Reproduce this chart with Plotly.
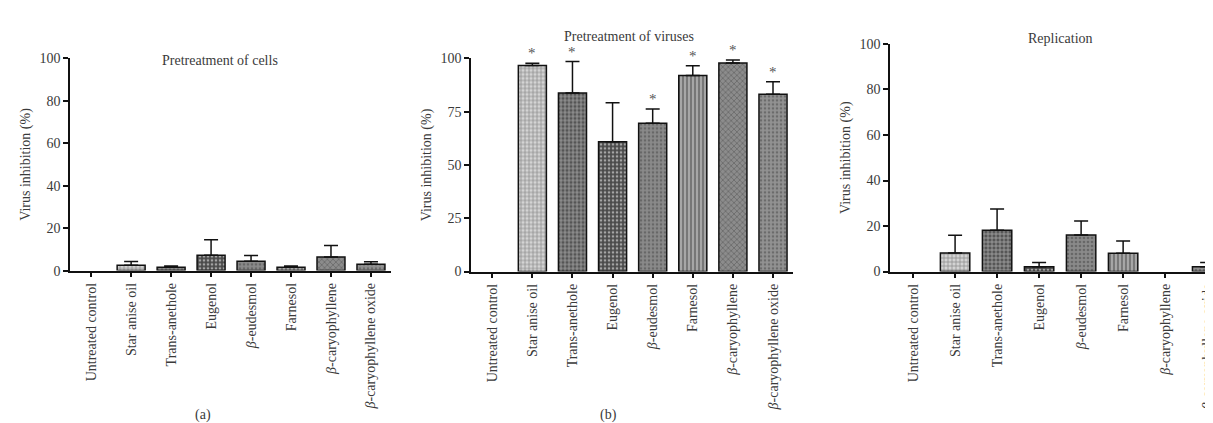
import plotly.graph_objects as go

categories = ["Untreated control", "Star anise oil", "Trans-anethole", "Eugenol",
              "<i>β</i>-eudesmol", "Farnesol", "<i>β</i>-caryophyllene",
              "<i>β</i>-caryophyllene oxide"]

# panel (a) pretreatment of cells
cells_mean = [0, 2.5, 1.6, 7.2, 4.4, 1.6, 6.4, 3.0]
cells_err = [0, 1.8, 0.6, 7.4, 2.7, 0.6, 5.4, 1.2]

# panel (b) pretreatment of viruses
virus_mean = [0, 96.7, 83.8, 60.9, 69.6, 92.0, 97.9, 83.2]
virus_err = [0, 1.0, 14.7, 18.3, 6.7, 4.5, 1.3, 5.8]
virus_sig = [False, True, True, False, True, True, True, True]

# panel (c) replication
repl_mean = [0, 8.1, 18.2, 2.1, 16.1, 8.0, 0, 2.1]
repl_err = [0, 7.9, 9.3, 1.9, 6.1, 5.4, 0, 1.9]

FONT = "Liberation Serif, DejaVu Serif, serif"
TXT = "#3a3a3a"
FS = 14

# fill style per category (bg, pattern shape, pattern colour)
styles = [
    ("#ffffff", "", "#ffffff"),
    ("#d4d4d4", "+", "#f2f2f2"),
    ("#555555", "+", "#222222"),
    ("#4a4a4a", ".", "#333333"),
    ("#8a8a8a", ".", "#dddddd"),
    ("#777777", "|", "#444444"),
    ("#8c8c8c", "x", "#cccccc"),
    ("#929292", ".", "#e0e0e0"),
]

fig = go.Figure()

panels = [
    ("x", "y", cells_mean, cells_err),
    ("x2", "y2", virus_mean, virus_err),
    ("x3", "y3", repl_mean, repl_err),
]

for xa, ya, mean, err in panels:
    # zero bars are left out so no outline / error cap is drawn on the axis
    keep = [i for i, v in enumerate(mean) if v]
    fig.add_trace(go.Bar(
        x=[categories[i] for i in keep], y=[mean[i] for i in keep],
        xaxis=xa, yaxis=ya, width=0.7,
        marker=dict(
            color=[styles[i][0] for i in keep],
            line=dict(color="#111111", width=1.5),
            pattern=dict(shape=[styles[i][1] for i in keep],
                         fgcolor=[styles[i][2] for i in keep],
                         size=4, solidity=0.35),
        ),
        error_y=dict(type="data", symmetric=False, array=[err[i] for i in keep],
                     arrayminus=[0] * len(keep), color="#111111",
                     thickness=1.5, width=7),
        showlegend=False,
    ))

xcommon = dict(type="category", categoryorder="array", categoryarray=categories,
               showline=True, linecolor="#111111", linewidth=1.5,
               ticks="outside", ticklen=5, tickcolor="#111111", tickwidth=1.5,
               tickangle=-90, tickfont=dict(family=FONT, size=FS, color=TXT),
               showgrid=False, zeroline=False, fixedrange=True)
ycommon = dict(showline=True, linecolor="#111111", linewidth=1.5,
               ticks="outside", ticklen=5, tickcolor="#111111", tickwidth=1.5,
               tickfont=dict(family=FONT, size=FS, color=TXT),
               showgrid=False, zeroline=False, range=[0, 100],
               title=dict(text="Virus inhibition (%)", standoff=6,
                          font=dict(family=FONT, size=FS, color=TXT)))

fig.update_layout(
    width=1213, height=423,
    margin=dict(l=0, r=0, t=0, b=0),
    paper_bgcolor="white", plot_bgcolor="white",
    bargap=0.3,
    xaxis=dict(xcommon, domain=[0.0511, 0.3157], anchor="y", range=[-0.53, 7.5]),
    yaxis=dict(ycommon, domain=[0.3735, 0.8936], anchor="x", dtick=20),
    xaxis2=dict(xcommon, domain=[0.3817, 0.6472], anchor="y2", range=[-0.53, 7.5]),
    yaxis2=dict(ycommon, domain=[0.3712, 0.8936], anchor="x2", dtick=25),
    xaxis3=dict(xcommon, domain=[0.7271, 1.0], anchor="y3", range=[-0.55, 7.33]),
    yaxis3=dict(ycommon, domain=[0.3712, 0.929], anchor="x3", dtick=20),
)

ann = []
# significance asterisks in panel (b)
for cat, m, e, s in zip(categories, virus_mean, virus_err, virus_sig):
    if s:
        ann.append(dict(x=cat, y=m + e, xref="x2", yref="y2", text="*",
                        showarrow=False, yshift=10,
                        font=dict(family=FONT, size=15, color="#555555")))


def label(px, py, text):
    return dict(x=px / 1213, y=1 - py / 423, xref="paper", yref="paper",
                xanchor="center", yanchor="middle", text=text, showarrow=False,
                font=dict(family=FONT, size=FS, color=TXT))


ann += [
    label(212, 47, "Pretreatment of cells"),
    label(621, 22, "Pretreatment of viruses"),
    label(1052, 24, "Replication"),
    label(195, 415, "(a)"),
    label(600, 415, "(b)"),
]
fig.update_layout(annotations=ann)

fig.write_html("out.html")
